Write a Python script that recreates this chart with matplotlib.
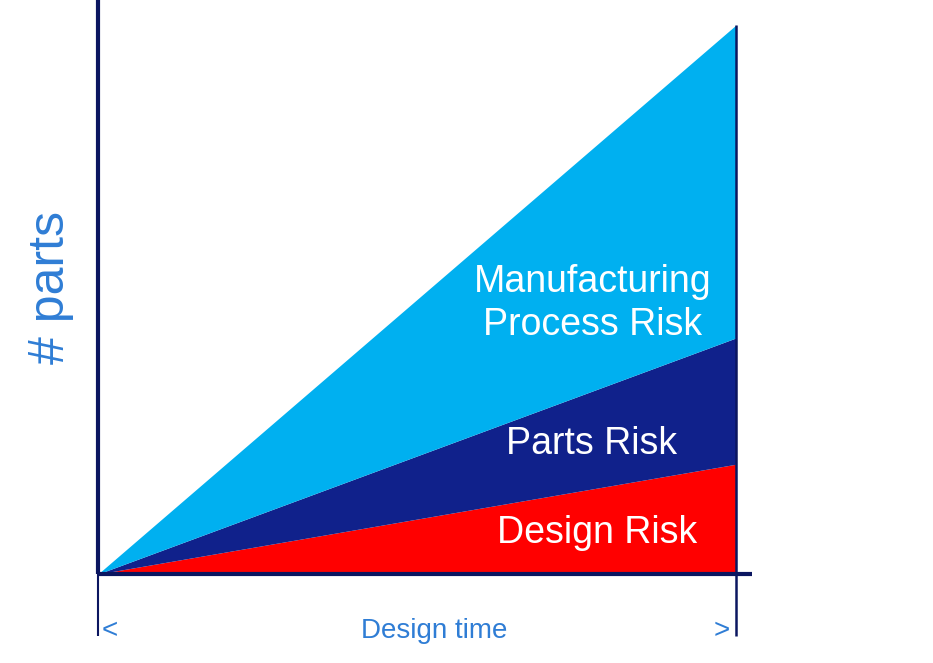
import matplotlib.pyplot as plt

plt.rcParams['font.family'] = ['Liberation Sans', 'DejaVu Sans']

# Dados (tempo normalizado 0..1, altura relativa ao total)
tempo = [0.0, 1.0]
design_risk = [0.0, 0.20]
parts_risk = [0.0, 0.43]
manufacturing_risk = [0.0, 1.0]

rotulos = ["Design Risk", "Parts Risk", "Manufacturing\nProcess Risk"]
cores = ["#FF0000", "#10218B", "#00B0F0"]
cor_eixo = "#0B1660"
cor_texto = "#2F7DD5"

W, H = 933, 663
fig = plt.figure(figsize=(W / 100, H / 100), dpi=100)
x0, x1, y_top, y_bot = 98, 736, 25, 574
ax = fig.add_axes([x0 / W, (H - y_bot) / H, (x1 - x0) / W, (y_bot - y_top) / H])
ax.set_xlim(0, 1)
ax.set_ylim(0, 1)
ax.axis('off')

# Áreas empilhadas
ax.fill_between(tempo, 0, design_risk, color=cores[0], lw=0)
ax.fill_between(tempo, design_risk, parts_risk, color=cores[1], lw=0)
ax.fill_between(tempo, parts_risk, manufacturing_risk, color=cores[2], lw=0)

# Eixos desenhados à mão
ax.plot([0, 0], [0, 1.046], color=cor_eixo, lw=3, clip_on=False, solid_capstyle='butt')
ax.plot([0, 1.025], [0, 0], color=cor_eixo, lw=3, clip_on=False, solid_capstyle='butt')
ax.plot([1, 1], [1, -0.113], color=cor_eixo, lw=1.8, clip_on=False, solid_capstyle='butt')
ax.plot([0, 0], [0, -0.113], color=cor_eixo, lw=1.5, clip_on=False, solid_capstyle='butt')

# Rótulos das áreas
ax.text(0.782, 0.075, rotulos[0], color='white', fontsize=27, ha='center', va='center')
ax.text(0.773, 0.237, rotulos[1], color='white', fontsize=27, ha='center', va='center')
ax.text(0.775, 0.493, rotulos[2], color='white', fontsize=27, ha='center', va='center',
        linespacing=1.25)

# Eixo x: "< Design time >"
ax.text(0.527, -0.104, "Design time", color=cor_texto, fontsize=20, ha='center', va='center')
ax.text(0.006, -0.104, "<", color=cor_texto, fontsize=20, ha='left', va='center')
ax.text(0.99, -0.104, ">", color=cor_texto, fontsize=20, ha='right', va='center')

# Eixo y
fig.text(51 / W, 1 - 288 / H, "# parts", color=cor_texto, fontsize=36, rotation=90,
         ha='center', va='center')

fig.savefig("out.png", dpi=100)
